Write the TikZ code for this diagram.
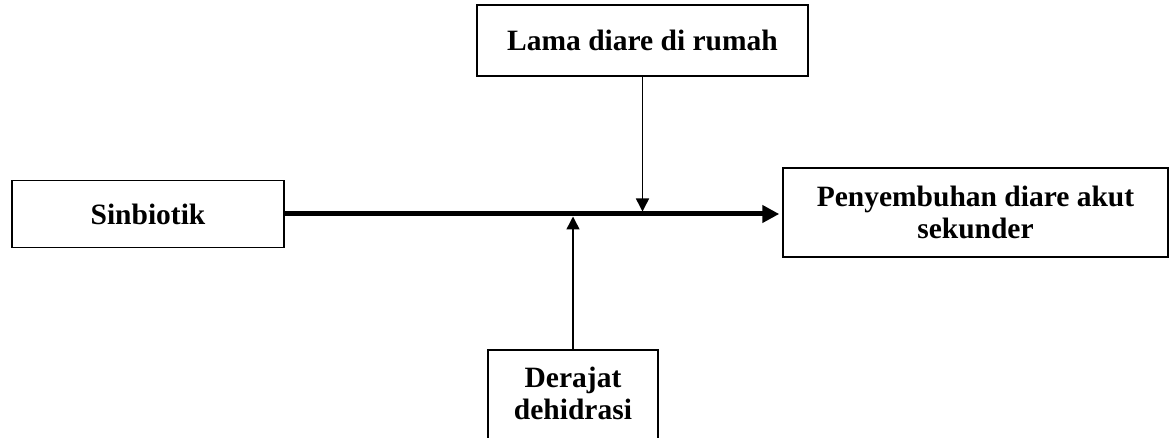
\documentclass[tikz,border=0pt]{standalone}
\usepackage{fontspec}
\setmainfont{Liberation Serif}
\usetikzlibrary{arrows.meta}
\begin{document}
\begin{tikzpicture}[x=1pt,y=-1pt,
 box/.style={draw, line width=1.5pt, rectangle, inner sep=0pt},
 lbl/.style={font=\fontsize{29.5}{32}\selectfont\bfseries, align=center},
 sidearrow/.style={line width=1.5pt, -{Triangle[length=13pt,width=13pt]}, shorten >=2.5pt},
 mainarrow/.style={line width=5pt, -{Triangle[length=17pt,width=17pt]}, shorten >=3pt}]
\useasboundingbox (0,0) rectangle (1172,438);
\clip (0,0) rectangle (1172,438);
\node[box, lbl, minimum width=331pt, minimum height=71pt] (lama) at (642.5,40.5) {Lama diare di rumah};
\node[box, lbl, minimum width=272pt, minimum height=67pt] (sin) at (148,214) {Sinbiotik};
\node[box, lbl, minimum width=385pt, minimum height=89pt] (pen) at (975.5,212.5) {Penyembuhan diare akut\\sekunder};
\node[box, minimum width=170pt, minimum height=120pt, anchor=north] (derbox) at (573,349) {};
\node[lbl] (der) at (573,393) {Derajat\\dehidrasi};
\coordinate (m0) at (sin.east -| pen.west);
\draw[mainarrow] (sin.east) -- (m0);
\coordinate (m1) at (lama.south |- sin.east);
\coordinate (m2) at (derbox.north |- sin.east);
\draw[sidearrow] (lama.south) -- (m1);
\draw[sidearrow] (derbox.north) -- (m2);
\end{tikzpicture}
\end{document}
